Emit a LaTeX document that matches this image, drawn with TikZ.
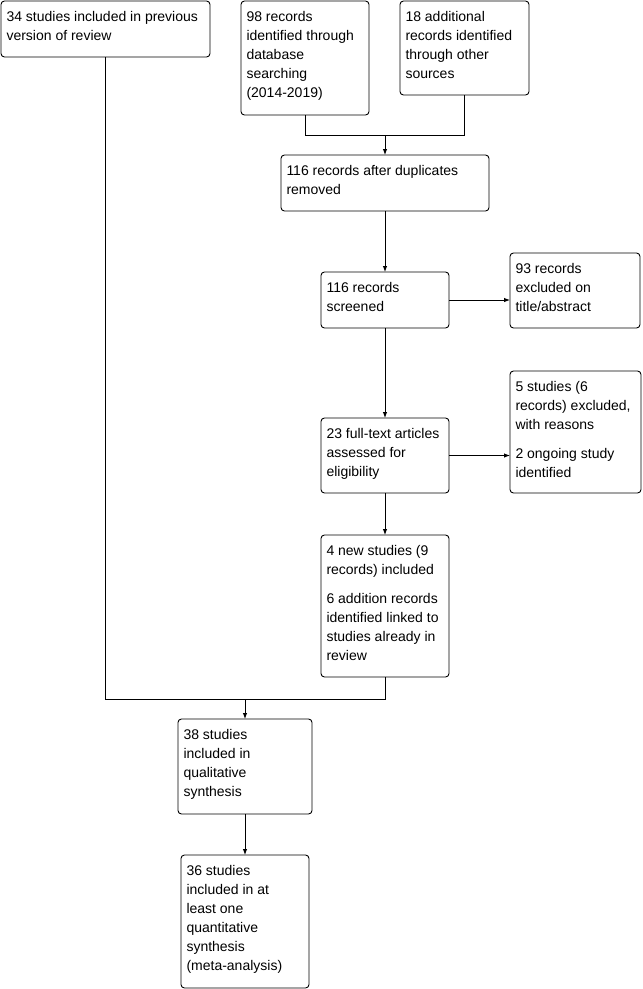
\documentclass[tikz,border=0pt]{standalone}
\usepackage{fontspec}
\setmainfont{Liberation Sans}
\usetikzlibrary{arrows.meta}
\tikzset{
  fbox/.style={draw=black, fill=white, rounded corners=3.5pt, line width=0.9pt, anchor=north west, inner sep=0pt, outer sep=0pt},
  conn/.style={draw=black, line width=0.9pt},
  arr/.style={conn, -{Latex[length=6pt,width=4.5pt]}}
}
\newcommand{\flowbox}[6]{%
  \node[fbox, minimum width=#4pt, minimum height=#5pt] (#1) at (#2,#3)
  {\parbox[t][#5pt][t]{\dimexpr #4pt-11pt\relax}{\fontsize{14}{19}\selectfont\raggedright\rule{0pt}{20pt}#6}};}
\begin{document}
\begin{tikzpicture}[x=1pt,y=-1pt]
\useasboundingbox (0,0) rectangle (643,989);
\flowbox{b1}{1}{1}{209}{56}{34 studies included in previous\\version of review}
\flowbox{b2}{241}{1}{128}{114}{98 records\\identified through\\database\\searching\\(2014-2019)}
\flowbox{b3}{400}{1}{129}{94}{18 additional\\records identified\\through other\\sources}
\flowbox{b4}{281}{155}{208}{56}{116 records after duplicates\\removed}
\flowbox{b5}{321}{272}{128}{56}{116 records\\screened}
\flowbox{b6}{510}{253}{130}{75}{93 records\\excluded on\\title/abstract}
\flowbox{b7}{510}{371}{131}{122}{5 studies (6\\records) excluded,\\with reasons\\[10pt]2 ongoing study\\identified}
\flowbox{b8}{321}{418}{128}{75}{23 full-text articles\\assessed for\\eligibility}
\flowbox{b9}{321}{535}{128}{142}{4 new studies (9\\records) included\\[10pt]6 addition records\\identified linked to\\studies already in\\review}
\flowbox{b10}{178}{719}{134}{95}{38 studies\\included in\\qualitative\\synthesis}
\flowbox{b11}{181}{855}{128}{133}{36 studies\\included in at\\least one\\quantitative\\synthesis\\(meta-analysis)}
\coordinate (j1) at (385,135);
\coordinate (j2) at (245,699);
\draw[conn] (b2.south) |- (b3.south |- j1) -- (b3.south);
\draw[arr] (j1) -- (b4.north);
\draw[arr] (b4.south) -- (b5.north);
\draw[arr] (b5.east) -- (b5.east -| b6.west);
\draw[arr] (b5.south) -- (b8.north);
\draw[arr] (b8.east) -- (b8.east -| b7.west);
\draw[arr] (b8.south) -- (b9.north);
\draw[conn] (b1.south) |- (b9.south |- j2) -- (b9.south);
\draw[arr] (j2) -- (b10.north);
\draw[arr] (b10.south) -- (b11.north);
\end{tikzpicture}
\end{document}
